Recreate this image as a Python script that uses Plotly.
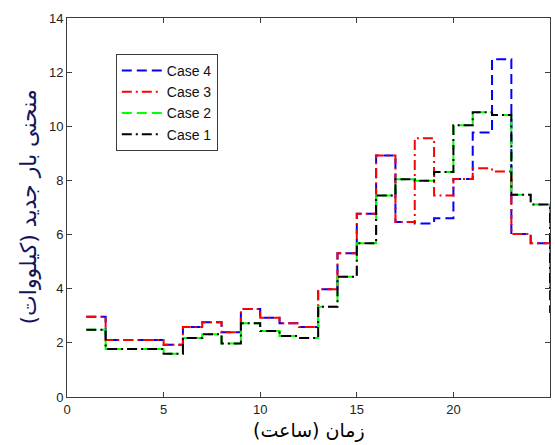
import plotly.graph_objects as go

hours = list(range(1, 26))
case4 = [2.96, 2.11, 2.11, 2.11, 1.93, 2.59, 2.76, 2.39, 3.25, 2.93, 2.72, 2.59,
         3.98, 5.31, 6.77, 8.92, 6.46, 6.41, 6.60, 8.05, 9.77, 12.48, 6.02, 5.68, 3.10]
case3 = [2.96, 2.11, 2.11, 2.11, 1.93, 2.59, 2.76, 2.39, 3.25, 2.93, 2.72, 2.59,
         3.98, 5.31, 6.77, 8.92, 6.46, 9.56, 7.44, 8.05, 8.45, 8.33, 6.02, 5.68, 4.00]
case2 = [2.48, 1.77, 1.77, 1.77, 1.60, 2.18, 2.32, 1.98, 2.72, 2.44, 2.25, 2.18,
         3.33, 4.44, 5.68, 7.44, 8.04, 7.99, 8.31, 10.04, 10.52, 10.42, 7.47, 7.11, 4.00]
case1 = [2.48, 1.77, 1.77, 1.77, 1.60, 2.18, 2.32, 1.98, 2.72, 2.44, 2.25, 2.18,
         3.33, 4.44, 5.68, 7.44, 8.04, 7.99, 8.31, 10.04, 10.52, 10.42, 7.47, 7.11, 4.00]

x_ticks = [0, 5, 10, 15, 20, 25]
y_ticks = [0, 2, 4, 6, 8, 10, 12, 14]

series = [
    ("Case 4", case4, "#0000ff", "10px,5px"),
    ("Case 3", case3, "#ff0000", "10px,4px,2px,4px"),
    ("Case 2", case2, "#00ff00", "10px,5px"),
    ("Case 1", case1, "#000000", "10px,4px,2px,4px"),
]

fig = go.Figure()
for name, vals, color, dash in series:
    fig.add_trace(go.Scatter(
        x=hours, y=vals, mode="lines", name=name,
        line=dict(shape="hv", color=color, width=2, dash=dash),
    ))

axis_common = dict(
    showline=True, linecolor="#3c3c3c", linewidth=1, mirror="ticks",
    ticks="inside", ticklen=5, tickcolor="#3c3c3c", showgrid=False, zeroline=False,
    tickfont=dict(family="Liberation Sans, Arial", size=13, color="#222222"),
)

fig.update_layout(
    width=555, height=445,
    margin=dict(l=67, r=5, t=18, b=48),
    paper_bgcolor="white", plot_bgcolor="white",
    showlegend=True,
    legend=dict(
        x=0.101, y=0.905, xanchor="left", yanchor="top",
        bgcolor="white", bordercolor="#3c3c3c", borderwidth=1,
        font=dict(family="Liberation Sans, Arial", size=14, color="#111111"),
        traceorder="normal", tracegroupgap=0, itemwidth=40,
    ),
    xaxis=dict(range=[0, 25], tickvals=x_ticks, **axis_common),
    yaxis=dict(range=[0, 14], tickvals=y_ticks, **axis_common),
    annotations=[
        dict(text="زمان (ساعت)", xref="paper", yref="paper", x=0.5, y=0,
             yshift=-33, xanchor="center", yanchor="middle", showarrow=False,
             font=dict(family="DejaVu Sans", size=19, color="#000000")),
        dict(text="منحنی بار جدید (کیلووات)", xref="paper", yref="paper", x=0, y=0.5,
             xshift=-39, xanchor="center", yanchor="middle", showarrow=False, textangle=-90,
             font=dict(family="DejaVu Sans", size=22, color="#14145a")),
    ],
)

fig.write_html("out.html")
